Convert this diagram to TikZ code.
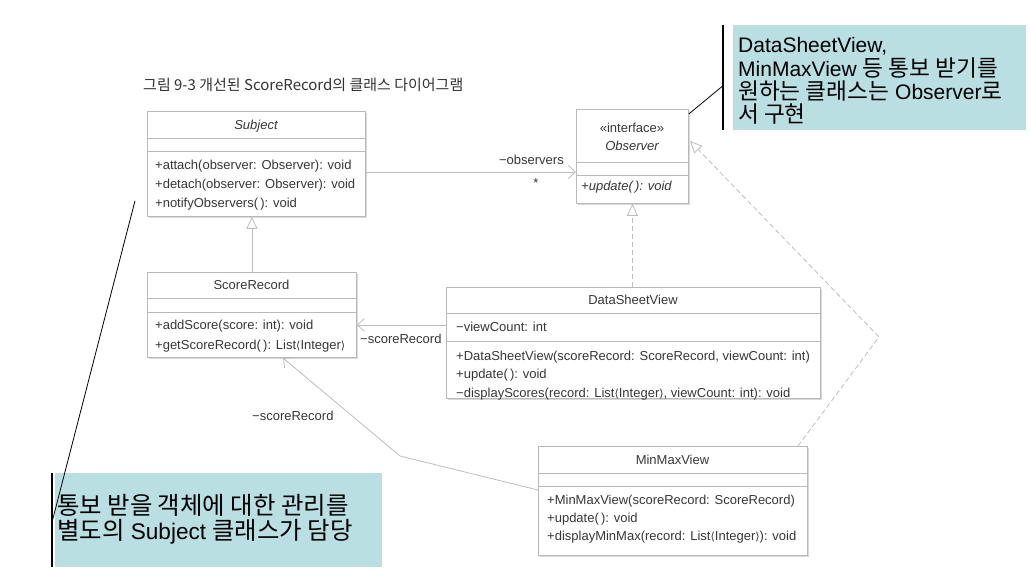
\documentclass[tikz,border=0pt]{standalone}
\usepackage{fontspec}
\setmainfont{Liberation Sans}
\newfontfamily\kr[Scale=1.08]{Noto Sans CJK KR}
\newfontfamily\krt{Noto Sans CJK KR}
\newfontfamily\dv[Scale=0.85]{DejaVu Sans}
\usetikzlibrary{arrows.meta,shadows}
\definecolor{clsline}{RGB}{185,185,185}
\definecolor{conn}{RGB}{190,190,190}
\definecolor{txt}{RGB}{55,55,55}
\definecolor{notebg}{RGB}{185,223,227}
\newcommand{\ctfont}{\fontsize{13}{15}\selectfont}
\newcommand{\ntfont}{\fontsize{21}{24}\selectfont}
\newcommand{\ntfontb}{\fontsize{22.6}{25}\selectfont}
\newcommand{\lang}{{\dv ⟨}}
\newcommand{\rang}{{\dv ⟩}}
\tikzset{
  cls/.style={draw=clsline, fill=white, line width=0.8pt, inner sep=0pt, anchor=north west,
    drop shadow={shadow xshift=1.2pt, shadow yshift=-1.2pt, fill=black!15, opacity=1}},
  sepline/.style={draw=clsline, line width=0.8pt},
  ctext/.style={anchor=base west, inner sep=0pt, text=txt, font=\ctfont},
  ctitle/.style={anchor=base, inner sep=0pt, text=txt, font=\ctfont},
  assoc/.style={draw=conn, line width=0.8pt, -{Straight Barb[length=7pt,width=13pt,line width=0.8pt]}},
  gen/.style={draw=conn, line width=0.8pt, -{Triangle[open,length=12pt,width=11pt,fill=white,line width=0.8pt]}},
  real/.style={gen, dash pattern=on 5pt off 3pt},
  note/.style={fill=notebg, draw=none, anchor=north west, inner sep=0pt},
  notetext/.style={anchor=base west, inner sep=0pt, font=\ntfont, text=black},
  bar/.style={draw=black, line width=1.6pt},
  callout/.style={draw=black, line width=0.8pt},
  lbl/.style={inner sep=0pt, text=txt, font=\ctfont},
}
\begin{document}
\begin{tikzpicture}[x=1pt,y=-1pt]
\useasboundingbox (0,0) rectangle (1031,569);
\fill[white] (0,0) rectangle (1031,569);

% title
\node[anchor=base west, inner sep=0pt, font=\krt\fontsize{15}{17}\selectfont, text=black!80] (title) at (143,91) {그림 9-3 개선된 ScoreRecord의 클래스 다이어그램};

% Subject
\node[cls, minimum width=218pt, minimum height=105pt] (subject) at (147,111) {};
\draw[sepline] ([yshift=-27pt]subject.north west) -- ([yshift=-27pt]subject.north east);
\draw[sepline] ([yshift=-40pt]subject.north west) -- ([yshift=-40pt]subject.north east);
\node[ctitle, font=\ctfont\itshape] (subjname) at (256,130) {Subject};
\node[ctext] (sm1) at (155,170) {+attach(observer: Observer): void};
\node[ctext] (sm2) at (155,189) {+detach(observer: Observer): void};
\node[ctext] (sm3) at (155,208) {+notifyObservers(\,): void};

% Observer
\node[cls, minimum width=112pt, minimum height=94pt] (observer) at (576,109) {};
\draw[sepline] ([yshift=-53pt]observer.north west) -- ([yshift=-53pt]observer.north east);
\draw[sepline] ([yshift=-66pt]observer.north west) -- ([yshift=-66pt]observer.north east);
\node[ctitle] (obsst) at (632,133) {«interface»};
\node[ctitle, font=\ctfont\itshape] (obsname) at (632,151) {Observer};
\node[ctext, font=\ctfont\itshape] (om1) at (581,191) {+update(\,): void};

% ScoreRecord
\node[cls, minimum width=209pt, minimum height=85pt] (score) at (147,272) {};
\draw[sepline] ([yshift=-26pt]score.north west) -- ([yshift=-26pt]score.north east);
\draw[sepline] ([yshift=-40pt]score.north west) -- ([yshift=-40pt]score.north east);
\node[ctitle] (scorename) at (251.5,290) {ScoreRecord};
\node[ctext] (rm1) at (155,330) {+addScore(score: int): void};
\node[ctext] (rm2) at (155,349) {+getScoreRecord(\,): List\lang Integer\rang};

% DataSheetView
\node[cls, minimum width=374pt, minimum height=111pt] (dsv) at (446,287) {};
\draw[sepline] ([yshift=-26pt]dsv.north west) -- ([yshift=-26pt]dsv.north east);
\draw[sepline] ([yshift=-54pt]dsv.north west) -- ([yshift=-54pt]dsv.north east);
\node[ctitle] (dsvname) at (633,305) {DataSheetView};
\node[ctext] (da1) at (456,332) {−viewCount: int};
\node[ctext] (dm1) at (456,360) {+DataSheetView(scoreRecord: ScoreRecord, viewCount: int)};
\node[ctext] (dm2) at (456,378.5) {+update(\,): void};
\node[ctext] (dm3) at (456,397) {−displayScores(record: List\lang Integer\rang, viewCount: int): void};

% MinMaxView
\node[cls, minimum width=269pt, minimum height=109pt] (mmv) at (538,446) {};
\draw[sepline] ([yshift=-27pt]mmv.north west) -- ([yshift=-27pt]mmv.north east);
\draw[sepline] ([yshift=-40pt]mmv.north west) -- ([yshift=-40pt]mmv.north east);
\node[ctitle] (mmvname) at (672.5,464) {MinMaxView};
\node[ctext] (mm1) at (547,504) {+MinMaxView(scoreRecord: ScoreRecord)};
\node[ctext] (mm2) at (547,522) {+update(\,): void};
\node[ctext] (mm3) at (547,540) {+displayMinMax(record: List\lang Integer\rang): void};

% connectors
\coordinate (aS) at (365,172);
\draw[assoc] (aS) -- (aS -| observer.west);
\node[lbl, anchor=base east] (obslbl) at (564,165) {−observers};
\node[lbl] (star) at (536,183) {*};

\draw[gen] (score.north) -- (score.north |- subject.south);

\draw[real] (dsv.north -| observer.south) -- (observer.south);

\coordinate (aD) at (446,325);
\draw[assoc] (aD) -- (aD -| score.east);
\node[lbl, anchor=base west] (srlbl1) at (360,344) {−scoreRecord};

\coordinate (aM) at (538,490);
\coordinate (bendM) at (400,456);
\coordinate (endM) at (283,358);
\draw[assoc] (aM) -- (bendM) -- (endM);
\node[lbl, anchor=base west] (srlbl2) at (252,420) {−scoreRecord};

\coordinate (rM) at (798,446);
\coordinate (bendR) at (879,337);
\coordinate (endR) at (690,141);
\draw[real] (rM) -- (bendR) -- (endR);

% note 1
\node[note, minimum width=293pt, minimum height=105pt] (note1) at (733,25) {};
\draw[bar] ([xshift=-10pt]note1.north west) -- ([xshift=-10pt]note1.south west);
\draw[callout] ([xshift=-10pt,yshift=-8pt]note1.west) -- ([yshift=-5pt]observer.north east);
\node[notetext] (n1a) at (738,53) {DataSheetView,};
\node[notetext] (n1b) at (738,76.5) {MinMaxView {\kr 등 통보 받기를}};
\node[notetext] (n1c) at (738,100) {{\kr 원하는 클래스는} Observer{\kr 로}};
\node[notetext] (n1d) at (738,123) {{\kr 서 구현}};

% note 2
\node[note, minimum width=327pt, minimum height=94pt] (note2) at (55,473) {};
\draw[bar] ([xshift=-3pt]note2.north west) -- ([xshift=-3pt]note2.south west);
\draw[callout] ([xshift=-12pt,yshift=16pt]subject.south west) -- ([xshift=-3pt,yshift=-2pt]note2.west);
\node[notetext, font=\ntfontb] (n2a) at (57,514) {{\kr 통보 받을 객체에 대한 관리를}};
\node[notetext, font=\ntfontb] (n2b) at (57,539) {{\kr 별도의} Subject {\kr 클래스가 담당}};
\end{tikzpicture}
\end{document}
